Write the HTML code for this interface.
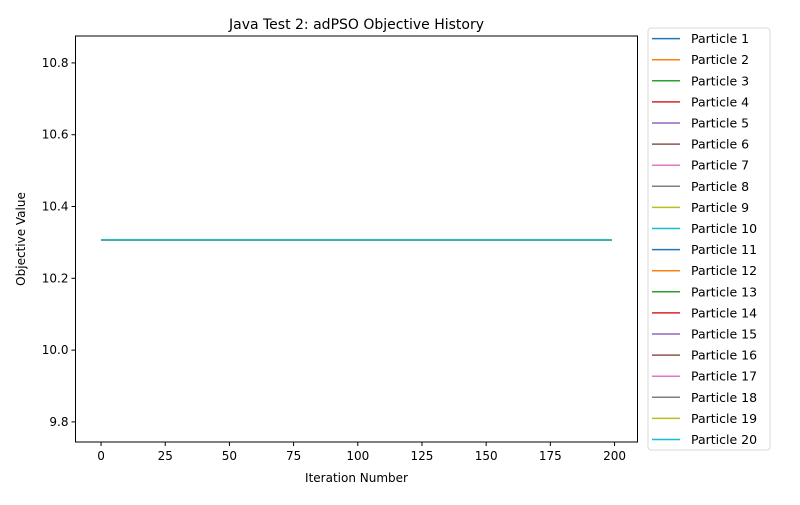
<!DOCTYPE html>
<html><head><meta charset="utf-8"><style>
body{margin:0;background:#fff;}
svg text{font-family:"DejaVu Sans","Liberation Sans",sans-serif;fill:#000;}
</style></head><body>
<svg id="c" width="800" height="500" xmlns="http://www.w3.org/2000/svg"></svg>
<script>
const particleNames = Array.from({length:20},(_,i)=>'Particle '+(i+1));
const particleValues = [10.307,10.307,10.307,10.307,10.307,10.307,10.307,10.307,10.307,10.307,10.307,10.307,10.307,10.307,10.307,10.307,10.307,10.307,10.307,10.307];
const iterationCount = 200;
const xTicks = [0,25,50,75,100,125,150,175,200];
const yTicks = [9.8,10.0,10.2,10.4,10.6,10.8];
const colors = ['#1f77b4','#ff7f0e','#2ca02c','#d62728','#9467bd','#8c564b','#e377c2','#7f7f7f','#bcbd22','#17becf'];

const L=75.5,R=637.5,T=36,B=442;
const xMin=-9.95,xMax=208.95,yMin=9.744,yMax=10.875;
const xs=v=>L+(v-xMin)/(xMax-xMin)*(R-L);
const ys=v=>B-(v-yMin)/(yMax-yMin)*(B-T);
const svg=document.getElementById('c');
const NS='http://www.w3.org/2000/svg';
function mk(tag,attrs,parent){const e=document.createElementNS(NS,tag);for(const k in attrs)e.setAttribute(k,attrs[k]);(parent||svg).appendChild(e);return e;}

// series
particleValues.forEach((v,i)=>{
  const pts=[];for(let k=0;k<iterationCount;k++)pts.push(xs(k).toFixed(2)+','+ys(v).toFixed(2));
  const p=mk('polyline',{points:pts.join(' '),fill:'none',stroke:colors[i%10],'stroke-width':1.5});
  
  
});
// frame
const fr=mk('rect',{x:L,y:T,width:R-L,height:B-T,fill:'none',stroke:'#000','stroke-width':1});


// x ticks
xTicks.forEach(t=>{
  const x=xs(t);
  mk('line',{x1:x,x2:x,y1:B,y2:B+4,stroke:'#000'});
  const tx=mk('text',{x:x,y:B+18,'font-size':12,'text-anchor':'middle'});tx.textContent=t;
  
  
});
yTicks.forEach(t=>{
  const y=ys(t);
  mk('line',{x1:L-4,x2:L,y1:y,y2:y,stroke:'#000'});
  const tx=mk('text',{x:L-7,y:y+4,'font-size':12,'text-anchor':'end'});tx.textContent=t.toFixed(1);
  
  
});
let t=mk('text',{x:(L+R)/2,y:29,'font-size':14,'text-anchor':'middle'});t.textContent='Java Test 2: adPSO Objective History';


t=mk('text',{x:(L+R)/2,y:482,'font-size':12,'text-anchor':'middle'});t.textContent='Iteration Number';


t=mk('text',{x:0,y:0,'font-size':12,'text-anchor':'middle',transform:'translate(25,'+((T+B)/2)+') rotate(-90)'});t.textContent='Objective Value';


// legend
const lg=mk('g',{});


mk('rect',{x:648,y:28,width:122,height:422,rx:3,fill:'#fff',stroke:'#d9d9d9'},lg);
particleNames.forEach((n,i)=>{
  const y=38.6+i*21.1;
  const ln=mk('line',{x1:652,x2:680,y1:y,y2:y,stroke:colors[i%10],'stroke-width':1.5},lg);
  
  
  const tx=mk('text',{x:691,y:y+4.5,'font-size':12.5},lg);tx.textContent=n;
  
  
});
</script>
</body></html>
